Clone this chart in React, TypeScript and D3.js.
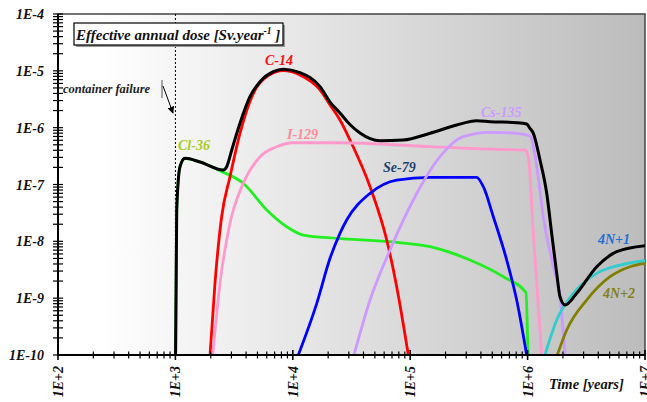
import React from 'react';
import * as d3 from 'd3';

// dose curves: [time (years), dose (Sv/year)]
const cl36: [number, number][] = [
  [1.005e3, 1e-10], [1.026e3, 3.556e-8], [1.094e3, 2.056e-7], [1.208e3, 2.891e-7],
  [1.622e3, 2.489e-7], [2.399e3, 1.75e-7], [3.786e3, 1.05e-7], [6.0e3, 3.556e-8],
  [8.872e3, 1.807e-8], [1.227e4, 1.291e-8], [2.366e4, 1.13e-8], [6.73e4, 9.84e-9],
  [1.476e5, 8.04e-9], [3.228e5, 4.69e-9], [6.209e5, 2.38e-9], [9.683e5, 1.25e-9],
  [1.007e6, 1e-10],
];
const c14: [number, number][] = [
  [1.972e3, 1e-10], [2.173e3, 1.824e-9], [2.477e3, 2.71e-8], [2.917e3, 1.371e-7],
  [3.548e3, 7.96e-7], [4.613e3, 4.027e-6], [6.0e3, 7.89e-6], [8.299e3, 1.005e-5],
  [1.151e4, 8.45e-6], [1.706e4, 4.6e-6], [2.075e4, 2.506e-6], [2.523e4, 1.365e-6],
  [3.069e4, 6.07e-7], [4.55e4, 9.14e-8], [6.31e4, 1.054e-8], [7.674e4, 1.589e-9],
  [9.638e4, 1e-10],
];
const i129: [number, number][] = [
  [2.08e3, 1e-10], [2.399e3, 1.824e-9], [2.917e3, 2.075e-8], [3.786e3, 1.05e-7],
  [5.26e3, 3.083e-7], [7.295e3, 4.624e-7], [1.009e4, 5.433e-7], [2.523e4, 5.433e-7],
  [1.476e5, 4.624e-7], [5.458e5, 4.159e-7], [9.506e5, 4.046e-7], [1.014e6, 3.083e-7],
  [1.119e6, 1.384e-8], [1.318e6, 1e-10],
];
const se79: [number, number][] = [
  [1.114e4, 1e-10], [1.6e4, 8.11e-10], [2.075e4, 5.023e-9], [2.523e4, 1.384e-8],
  [2.877e4, 2.371e-8], [4.55e4, 6.998e-8], [7.674e4, 1.199e-7], [1.476e5, 1.337e-7],
  [3.681e5, 1.337e-7], [4.198e5, 9.14e-8], [5.105e5, 2.71e-8], [6.637e5, 4.69e-9],
  [8.072e5, 9.268e-10], [9.817e5, 1e-10],
];
const cs135: [number, number][] = [
  [3.319e4, 1e-10], [4.55e4, 9.268e-10], [6.73e4, 7.031e-9], [1.062e5, 5.333e-8],
  [1.795e5, 3.083e-7], [2.831e5, 6.934e-7], [4.786e5, 8.279e-7], [8.072e5, 7.962e-7],
  [1.047e6, 7.129e-7], [1.197e6, 2.056e-7], [1.361e6, 2.71e-8], [1.656e6, 3.573e-9],
  [1.888e6, 1.059e-9], [2.084e6, 1e-10],
];
const chain4n1: [number, number][] = [
  [1.406e6, 1e-10], [1.77e6, 4.121e-10], [2.449e6, 1.216e-9], [3.882e6, 2.735e-9],
  [6.124e6, 3.828e-9], [1.0e7, 4.56e-9],
];
const chain4n2: [number, number][] = [
  [1.791e6, 1e-10], [2.153e6, 2.754e-10], [3.184e6, 9.268e-10], [5.035e6, 2.382e-9],
  [7.447e6, 3.573e-9], [1.0e7, 4.102e-9],
];
const total: [number, number][] = [
  [1.003e3, 1e-10], [1.026e3, 3.556e-8], [1.094e3, 2.056e-7], [1.208e3, 2.891e-7],
  [1.622e3, 2.489e-7], [2.559e3, 1.799e-7], [2.735e3, 2.056e-7], [3.02e3, 4.046e-7],
  [3.548e3, 1.194e-6], [4.315e3, 3.508e-6], [5.26e3, 6.442e-6], [6.823e3, 9.661e-6],
  [8.298e3, 1.064e-5], [1.151e4, 9.268e-6], [1.706e4, 5.26e-6], [2.075e4, 2.825e-6],
  [2.523e4, 1.811e-6], [3.069e4, 1.138e-6], [3.733e4, 8.05e-7], [4.55e4, 6.44e-7],
  [5.534e4, 5.902e-7], [8.73e4, 6.067e-7], [1.476e5, 7.962e-7], [2.489e5, 1.114e-6],
  [3.681e5, 1.324e-6], [4.786e5, 1.274e-6], [8.072e5, 1.222e-6], [9.817e5, 1.159e-6],
  [1.047e6, 9.75e-7], [1.119e6, 7.962e-7], [1.276e6, 2.698e-7], [1.455e6, 6.998e-8],
  [1.603e6, 1.384e-8], [1.77e6, 2.735e-9], [1.888e6, 1.059e-9], [2.084e6, 7.568e-10],
  [2.618e6, 1.216e-9], [3.882e6, 3.573e-9], [5.741e6, 6.561e-9], [1.0e7, 8.375e-9],
];

const xTickLabels = ['1E+2', '1E+3', '1E+4', '1E+5', '1E+6', '1E+7'];
const yTickLabels = ['1E-10', '1E-9', '1E-8', '1E-7', '1E-6', '1E-5', '1E-4'];
const containerFailure = 1e3;

const series = [
  { name: 'Cl-36', data: cl36, color: '#22ee22', width: 2.8 },
  { name: 'C-14', data: c14, color: '#ff0000', width: 2.8 },
  { name: 'I-129', data: i129, color: '#ff99cc', width: 2.8 },
  { name: 'Se-79', data: se79, color: '#0000ff', width: 2.8 },
  { name: 'Cs-135', data: cs135, color: '#cc99ff', width: 2.8 },
  { name: '4N+1', data: chain4n1, color: '#33cccc', width: 2.8 },
  { name: '4N+2', data: chain4n2, color: '#808000', width: 2.8 },
  { name: 'total', data: total, color: '#000000', width: 3 },
];

const labels = [
  { text: 'C-14', color: '#ff1010', x: 265, y: 65 },
  { text: 'Cl-36', color: '#aacc22', x: 178, y: 150 },
  { text: 'I-129', color: '#ff8a99', x: 287, y: 139 },
  { text: 'Se-79', color: '#1e3f70', x: 383, y: 172 },
  { text: 'Cs-135', color: '#cc99ff', x: 481, y: 117 },
  { text: '4N+1', color: '#1f6fd6', x: 598, y: 244 },
  { text: '4N+2', color: '#808020', x: 603, y: 298 },
];

const W = 647;
const H = 402;
const margin = { top: 14, right: 2, bottom: 47, left: 58 };
const font = '"Liberation Serif", "Times New Roman", serif';

const App: React.FC = () => {
  const x = d3.scaleLog().domain([1e2, 1e7]).range([margin.left, W - margin.right]);
  const y = d3.scaleLog().domain([1e-10, 1e-4]).range([H - margin.bottom, margin.top]);
  const [x0, x1] = x.range();
  const [yb, yt] = y.range();

  const line = d3.line<[number, number]>()
    .x(d => x(d[0]))
    .y(d => y(d[1]))
    .curve(d3.curveMonotoneX);

  const isMajor = (v: number) => Math.abs(Math.log10(v) - Math.round(Math.log10(v))) < 1e-9;
  const xTicks = x.ticks();
  const yTicks = y.ticks();
  const xMajors = xTicks.filter(isMajor);
  const yMajors = yTicks.filter(isMajor);
  const xf = x(containerFailure);

  return (
    <svg width={W} height={H} style={{ position: 'absolute', left: 0, top: 0, display: 'block' }}
      fontFamily={font} fontWeight="bold" fontStyle="italic">
      <defs>
        <linearGradient id="bg" gradientUnits="userSpaceOnUse" x1={x0} x2={x1} y1={0} y2={0}>
          <stop offset="0" stopColor="#ffffff" />
          <stop offset="0.07" stopColor="#ffffff" />
          <stop offset="1" stopColor="#bcbcbc" />
        </linearGradient>
        <clipPath id="plot">
          <rect x={x0} y={yt} width={x1 - x0} height={yb - yt} />
        </clipPath>
        <marker id="arrow" viewBox="0 0 10 10" refX="9" refY="5" markerWidth="7" markerHeight="7" orient="auto">
          <path d="M0,0 L10,5 L0,10 z" fill="#000" />
        </marker>
      </defs>

      <rect x={x0} y={yt} width={x1 - x0} height={yb - yt} fill="url(#bg)" stroke="#444" strokeWidth={1.5} />

      {/* container failure marker */}
      <line x1={xf} x2={xf} y1={yt} y2={yb} stroke="#000" strokeWidth={1} strokeDasharray="2,2" />

      <g clipPath="url(#plot)">
        {series.map(s => (
          <path key={s.name} d={line(s.data) || ''} fill="none" stroke={s.color}
            strokeWidth={s.width} strokeLinejoin="round" />
        ))}
      </g>

      {/* axes */}
      <line x1={x0} x2={x0} y1={yt} y2={yb} stroke="#000" strokeWidth={2} />
      <line x1={x0} x2={x1} y1={yb} y2={yb} stroke="#000" strokeWidth={2} />
      {yTicks.map((t, i) => (
        <line key={'yt' + i} x1={x0 - 5} x2={x0 + 5} y1={y(t)} y2={y(t)} stroke="#000" strokeWidth={1.2} />
      ))}
      {xTicks.map((t, i) => {
        const m = isMajor(t);
        return (
          <line key={'xt' + i} x1={x(t)} x2={x(t)} y1={yb - (m ? 5 : 3.5)} y2={yb + (m ? 5 : 3.5)}
            stroke="#000" strokeWidth={m ? 1.6 : 1.2} />
        );
      })}
      {yMajors.map((t, i) => (
        <text key={'yl' + i} x={44} y={y(t) + 5} textAnchor="end" fontSize={14} fill="#111">
          {yTickLabels[i]}
        </text>
      ))}
      {xMajors.map((t, i) => (
        <text key={'xl' + i} transform={`translate(${x(t) + 5},${yb + 11}) rotate(-90)`}
          textAnchor="end" fontSize={14} fill="#111">
          {xTickLabels[i]}
        </text>
      ))}
      <text x={549} y={389} fontSize={14.5} fill="#111">Time [years]</text>

      {/* title box */}
      <rect x={76} y={25} width={209} height={22} fill="#999" />
      <rect x={74} y={23} width={209} height={22} fill="#fff" stroke="#000" strokeWidth={1.2} />
      <text x={76} y={40} fontSize={15} fill="#111">
        Effective annual dose [Sv.year
        <tspan fontSize={9.5} dy={-6}>-1</tspan>
        <tspan dy={6}> ]</tspan>
      </text>

      <text x={63} y={93} fontSize={12.5} fill="#222">container failure</text>
      <line x1={162} x2={162} y1={80} y2={98} stroke="#888" strokeWidth={1.5} />
      <line x1={163} x2={173} y1={86} y2={113} stroke="#000" strokeWidth={1} markerEnd="url(#arrow)" />

      {labels.map(l => (
        <text key={l.text} x={l.x} y={l.y} fontSize={14} fill={l.color}>{l.text}</text>
      ))}
    </svg>
  );
};

export default App;
